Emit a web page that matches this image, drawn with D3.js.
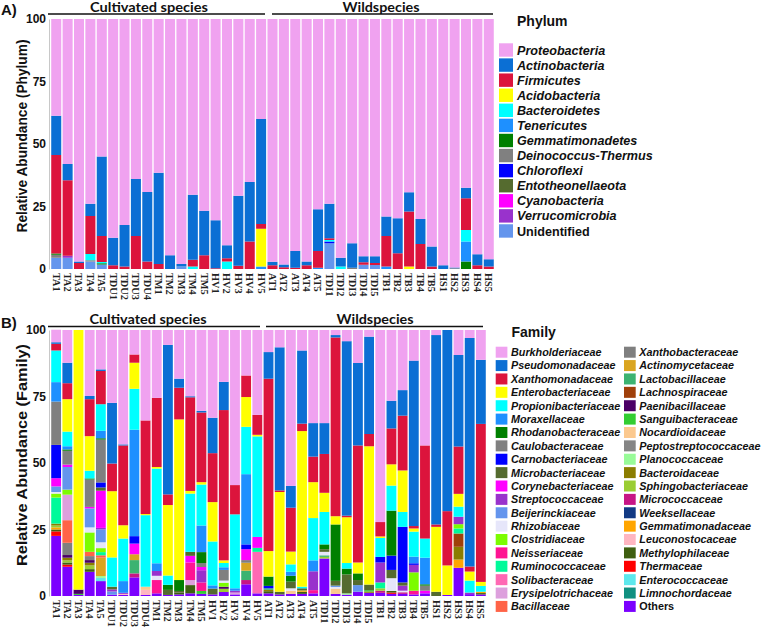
<!DOCTYPE html>
<html><head><meta charset="utf-8">
<script src="https://cdn.jsdelivr.net/npm/d3@7"></script>
<style>body{margin:0;background:#fff}svg{display:block}</style>
</head><body>
<svg id="chart" width="761" height="627"></svg>
<script>
// ---------- DATA ----------
const samples = ["TA1","TA2","TA3","TA4","TA5","TDU1","TDU2","TDU3","TDU4","TM1","TM2","TM3","TM4","TM5","HV1","HV2","HV3","HV4","HV5",
  "AT1","AT2","AT3","AT4","AT5","TDI1","TDI2","TDI3","TDI4","TDI5","TB1","TB2","TB3","TB4","TB5","HS1","HS2","HS3","HS4","HS5"];
const groups = [{name:"Cultivated species", first:"TA1", last:"HV5"}, {name:"Wildspecies", first:"AT1", last:"HS5"}];
const yTicks = [0,25,50,75,100];

// Phylum (panel A), legend order
const phylumNames = ["Proteobacteria","Actinobacteria","Firmicutes","Acidobacteria","Bacteroidetes","Tenericutes","Gemmatimonadetes","Deinococcus-Thermus","Chloroflexi","Entotheonellaeota","Cyanobacteria","Verrucomicrobia","Unidentified"];
const phylumColors = ["#f0a2f0","#0b6fd4","#dc143c","#ffff00","#00ffff","#1e90ff","#008000","#808080","#0000ff","#556b2f","#ff00ff","#9932cc","#6495ed"];
const proteobacteria = [38.7,58,97,73.9,55, 87.5,82.4,64,69.2, 61.5,94.5,98,70.3,76.7, 80.5,90.5,70.7,65.2,40, 97.1,98.2,92.8,97,76.1, 73.9,95.5,89.7,94.9,94.9, 79,79.7,69.3,80,91, 98.5,99.4,67.5,94.1,96.1];
const actinobacteria = [15.7,6.5,0.6,4.9,31.8, 11,16.6,22.8,27.8, 36.5,5.5,1,26,17.8, 19.2,5.2,28,23.8,42, 1.4,1.1,6.7,1.5,16.7, 13.8,3.5,9.8,2.4,2.7, 7.8,14,7.7,10,8, 1.5,0.3,4.2,4.4,2.9];
const firmicutes = [39.4,30.2,2.4,15.2,10.4, 1.5,1,13.2,3, 2,0,0,2.7,5.5, 0.3,1.3,1.3,11,1.9, 1.5,0.7,0.5,1.5,6.7, 0.7,0,0,1,0.8, 12.2,6.3,22,10,1, 0,0,12.7,1.5,1];
const acidobacteria = [0,0,0,0,0, 0,0,0,0, 0,0,0,0,0, 0,0,0,0,15.1, 0,0,0,0,0, 0,0,0,0,0, 0,0,1,0,0, 0,0,0,0,0];
const bacteroidetes = [0,0,0,2.5,0.5, 0,0,0,0, 0,0,0,1,0, 0,3,0,0,0, 0,0,0,0,0, 0.6,1,0,0,0, 0,0,0,0,0, 0,0,4.6,0,0];
const tenericutes = [0,0,0,0,0, 0,0,0,0, 0,0,0,0,0, 0,0,0,0,1, 0,0,0,0,0.5, 0,0,0,0,0, 1,0,0,0,0, 0,0,8,0,0];
const gemmatimonadetes = [0.5,0,0,0,0.5, 0,0,0,0, 0,0,0,0,0, 0,0,0,0,0, 0,0,0,0,0, 0,0,0,0,0, 0,0,0,0,0, 0,0,3,0,0];
const deinococcus = [1.2,0,0,0.5,0, 0,0,0,0, 0,0,0,0,0, 0,0,0,0,0, 0,0,0,0,0, 0,0,0.5,0,0, 0,0,0,0,0, 0,0.3,0,0,0];
const chloroflexi = [0,0,0,0,0, 0,0,0,0, 0,0,0,0,0, 0,0,0,0,0, 0,0,0,0,0, 0.7,0,0,0,0, 0,0,0,0,0, 0,0,0,0,0];
const entotheonellaeota = [0,0,0,0,0, 0,0,0,0, 0,0,0,0,0, 0,0,0,0,0, 0,0,0,0,0, 0,0,0,0,0, 0,0,0,0,0, 0,0,0,0,0];
const cyanobacteria = [0,0,0,0,0, 0,0,0,0, 0,0,0,0,0, 0,0,0,0,0, 0,0,0,0,0, 0,0,0,0,0, 0,0,0,0,0, 0,0,0,0,0];
const verrucomicrobia = [0,0.8,0,0,0, 0,0,0,0, 0,0,0,0,0, 0,0,0,0,0, 0,0,0,0,0, 0,0,0,0,0, 0,0,0,0,0, 0,0,0,0,0];
const unidentified = [4.5,4.5,0,3,1.8, 0,0,0,0, 0,0,1,0,0, 0,0,0,0,0, 0,0,0,0,0, 10.3,0,0,1.7,1.6, 0,0,0,0,0, 0,0,0,0,0];
const phylumValues = [proteobacteria,actinobacteria,firmicutes,acidobacteria,bacteroidetes,tenericutes,gemmatimonadetes,deinococcus,chloroflexi,entotheonellaeota,cyanobacteria,verrucomicrobia,unidentified];

// Family (panel B), legend order
const familyNames = ["Burkholderiaceae","Pseudomonadaceae","Xanthomonadaceae","Enterobacteriaceae","Propionibacteriaceae","Moraxellaceae","Rhodanobacteraceae","Caulobacteraceae","Carnobacteriaceae","Microbacteriaceae","Corynebacteriaceae","Streptococcaceae","Beijerinckiaceae","Rhizobiaceae","Clostridiaceae","Neisseriaceae","Ruminococcaceae","Solibacteraceae","Erysipelotrichaceae","Bacillaceae",
  "Xanthobacteraceae","Actinomycetaceae","Lactobacillaceae","Lachnospiraceae","Paenibacillaceae","Sanguibacteraceae","Nocardioidaceae","Peptostreptococcaceae","Planococcaceae","Bacteroidaceae","Sphingobacteriaceae","Micrococcaceae","Weeksellaceae","Gemmatimonadaceae","Leuconostocaceae","Methylophilaceae","Thermaceae","Enterococcaceae","Limnochordaceae","Others"];
const familyColors = ["#f0a2f0","#0b6fd4","#dc143c","#ffff00","#00ffff","#1e90ff","#008000","#808080","#0000ff","#556b2f","#ff00ff","#9932cc","#6495ed","#e6e6fa","#7cfc00","#ff1493","#00fa9a","#ff69b4","#dda0dd","#ff6347",
  "#7f7f7f","#daa520","#3cb371","#a0400a","#4b0066","#32cd32","#fbc98f","#858585","#98fb98","#8b7d00","#9acd32","#c71585","#123a84","#ffa500","#ffb6c1","#3f5f10","#ff0000","#5de8ec","#109080","#7b00ff"];
const burkholderiaceae = [4.7,12.3,0,24.8,14.8, 27.4,43,9.2,34, 25.5,5.6,18.3,24.9,30.4, 33,19.5,58.3,17.1,31.9, 8.3,6.5,58.6,7.7,35, 35,1.9,4.2,12.4,2.5, 72.2,26.6,22.6,11.5,43.4, 1.9,0,9.4,3,11.2];
const pseudomonadaceae = [0.6,7.7,0,1.2,0.6, 22.8,0.4,0,0, 0,56.2,3.4,0.4,0.6, 13.3,10.6,0,0,0, 10,53.8,8.2,27.5,12.6, 11.6,0.9,65.6,31,36.6, 0,10.4,9.6,62.2,0, 71.2,68.1,34.4,85.9,24.1];
const xanthomonadaceae = [2.5,6,0,13.9,12.5, 10.4,30,3.1,35.2, 26,4,11.9,35.2,26.2, 18.4,56.5,11,8.1,7.5, 64.8,0.6,16.5,2.8,9.6, 14.6,67.2,0.6,44,4.6, 5.4,13.5,20.6,0.9,35, 0.9,20.4,17.8,1.9,59.4];
const enterobacteriaceae = [0,12.2,97.6,13,0, 24.9,5,9.8,0.4, 0.6,26.5,60.4,1,0.9, 14.8,1,0,11.2,0.6, 9.6,37.5,4.8,58.5,13.5, 7.2,3.1,17.2,4.1,52, 0.6,8,15.6,1.2,0, 24.4,11.1,4.8,3.4,1.5];
const propionibacteriaceae = [11.9,5.5,0,2.9,10, 11,16,15.4,26.9, 35.6,3.5,0,21.9,15.4, 16.5,1.6,27.8,17.8,37.8, 0,0,2.8,0.6,15.9, 12.2,0,2.1,0,0, 7.1,9.4,5.6,9.4,7.2, 0,0,3.8,4.5,2.2];
const moraxellaceae = [7.3,1.2,0,0,2.8, 0,4.4,40,0, 2.9,0,0,0,10, 1.2,1,0.9,26.4,0, 0,0,1.5,0,4.1, 0,0,0,0,0, 0,0,0,2.5,10, 0,0,0,0,0];
const rhodanobacteraceae = [0,0.5,0,0.4,0.5, 0,0,0,0, 0,1.9,4.1,0,4.1, 0,0,0,0,0, 3.5,0,2.2,0,0, 1.8,21.2,2.2,2.5,0, 0,16.9,0,0,0.5, 0,0,0,0,0];
const caulobacteraceae = [16.3,5.2,0,10.3,16.1, 0,0,0,0, 0,0,0,0,1.5, 0,4,0,0,0, 0,0,0,0,0, 0,0,0,0,0, 0,0,0,0,1.9, 0,0,0,0,0];
const carnobacteriaceae = [12.5,0,0,0,1.9, 0,0,2.8,0, 0,0,0,0,0, 0,0,0,1.8,0, 0.9,0,0,0,0, 0,0,0,0,0, 2.1,5.4,20.9,0.6,0, 0,0,0,0,0];
const microbacteriaceae = [0,0,0,0,1.2, 1,0,0,0, 0,1.9,0.6,1.5,0, 2.2,0,0,0,0, 0,1,2.5,0.8,0, 1,1.8,7.1,1.9,2.1, 0,3.1,1.2,0,0, 1.6,0,0,0,0];
const corynebacteriaceae = [3.1,0.9,0,0.6,14, 0,0,4,0, 0,0,0,2.5,1.2, 0,0,0,4.1,4.1, 0,0,0,0,0, 0,0,0,0,0, 0,0,0,0,1, 0,0,0,0,0];
const streptococcaceae = [0,0,0,0,0.6, 0.8,0.4,0,0, 1.8,0,0,0,4.6, 0,0,0.7,0,0, 0,0,0,0,7.1, 0,0,0,0,0, 7.5,0,1.9,2.8,0, 0,0,2.8,0.6,0];
const beijerinckiaceae = [2.1,8.5,0,7.1,4.8, 1.2,0,0,0, 0,0,0,0,0, 0,0,0,0,0, 0,0,0,0,0, 0,0.5,0,2.5,0, 0,0,0,0,0, 0,0,0,0,0];
const rhizobiaceae = [0.6,0,0,1.9,2.2, 0,0,0,0, 1.6,0,0,0,0, 0,0.8,0,0,0, 0,0,0.9,0,0, 1.3,0.6,0,0,0, 0,4.8,0.6,0,0, 0,0,0,0,0];
const clostridiaceae = [1.5,1.9,0,7.3,1.5, 0,0,0,0, 0,0,0,0,0, 0,1.5,0,0,0, 0,0,0,0,0, 0,0,0,0,0, 0,0,0,6.9,0, 0,0,1.6,0,0];
const neisseriaceae = [0,0,0,0,0, 0,0,0,0, 5,0,0,6.6,3.2, 0,0,0,0,0, 0,0,0,0,1.2, 0,0,0,0,0, 0,0,0,1.4,0, 0,0,0,0,0];
const ruminococcaceae = [9.8,0,0,0,1.2, 0,0,0,0, 0,0,0,0,0, 0,0,0,0,1.5, 0,0,0,0,0, 0,0,0,0,0, 2.2,0,0,0,0, 0,0,1.9,0,0];
const solibacteraceae = [0,0,0,0,0, 0,0,0,0, 0,0,0,0,0, 0,0,0,0,15.6, 0,0,0,0,0, 0,0,0,0,0, 0,0,0,0,0, 0,0,0,0,0];
const erysipelotrichaceae = [0,9.6,0,0,0, 0,0,0,0, 0,0,0,1.9,0, 0,0,0.7,0,0, 0,0,0,0,0, 0,0,0,0,0, 0,0,0,0,0, 0,0,0,0,0];
const bacillaceae = [0,8.5,0,1.6,0.9, 0,0,0,0, 0,0,0,0,0, 0,0,0,0,0, 0,0,0,0,0, 0,0,0,0,0, 0,0,0,0,0, 0,0,0,0,0];
const xanthobacteraceae = [0,4.6,0,1.5,0, 0,0,0,0, 0,0,0,0,0, 0,0,0,1,0, 0,0,0,0,0, 0,0,0,0,0, 0,0,0,0,0, 0,0,0,0,0];
const actinomycetaceae = [0,0,0,0,6.9, 0,0,2.2,0, 0,0,0,0,0, 0,0,0,3,0, 0,0,0,0,0, 0,0,0,0,0, 0,0,0,0,0, 0,0,0,0,0];
const lactobacillaceae = [0,0,0,0,0, 0,0,5,0, 0,0,0,0,0, 0,0,0,3.5,0, 0.6,0,0,0,0, 0.6,0,0,0,0, 0,0,0,0,0, 0,0,0,0,0];
const lachnospiraceae = [0,0,0,0,0, 0,0,0,0, 0,0,0,0,0, 0,0,0,0,0, 0,0,0,0,0, 0,0,0,0,0, 0,0,0,0,0, 0,0,5,0,0];
const paenibacillaceae = [0,1,1.6,1,0, 0,0,0,0, 0,0,0,0,0, 0,0.8,0,0,0, 0,0,0,0,0, 0,0,0,0,0, 0,0,0,0,0, 0,0,0,0,0];
const sanguibacteraceae = [0,0,0.4,0,0, 0,0,0,0, 0,0,0,0,1.1, 0,0,0,0,0, 0,0,0,0,0, 0,0,0,0,0.5, 0,0,0,0,0, 0,0,0,0,0];
const nocardioidaceae = [0,0,0,0,0, 0,0,0,1.2, 0,0,0,0,0, 0,0,0,0,0, 0,0,1.2,0,0, 0,2,0,0,0, 0,0,0,0,0, 0,0,0,0,0];
const peptostreptococcaceae = [0,0,0,0,0, 0,0,0,0, 0,0,0,0,0, 0,0,0,0,0, 0,0,0,0,0, 0,0,0,0,0, 0,0,0,0,0, 0,0,0,0,0];
const planococcaceae = [0,0,0,0,0.7, 0,0,0,0, 0,0,0,0,0, 0,0,0,0,0, 0,0,0,0,0, 0,0,0.5,0,0, 0,0,0,0,0, 0,0,0,0,0];
const bacteroidaceae = [0.7,1,0,1,0, 0,0,0,0, 0,0,0,0,0, 0,0,0,0,0, 0.5,0,0,0,0, 0,0,0,0,0.5, 0,0,0,0,0, 0,0,4.8,0,0];
const sphingobacteriaceae = [0.7,0.8,0,1.4,0, 0,0,0,0, 0,0,0,0,0, 0,1.2,0,0,0, 0,0,0,0,0, 0.6,0,0,0,0, 0.9,0,0,0,0, 0,0,0,0,0];
const micrococcaceae = [0,0,0,0,0, 0,0,1.5,0, 0,0,0,0,0, 0,0,0,1.6,0, 0,0,0,0,0, 0,0,0,0,0, 0.8,0,0.6,0,0, 0,0,0,0,0];
const weeksellaceae = [0,0,0,0,0, 0,0,0,0, 0,0,0,0,0, 0,0,0,0,0, 0,0,0,0,0, 0,0,0,0,0, 0,0,0,0,0, 0,0,0,0,0];
const gemmatimonadaceae = [0.8,0,0,0,0, 0,0,0,0, 0,0,0,0,0, 0,0,0,0,0, 0,0,0,0.5,0, 0,0,0,0,0, 0,0,0,0,0, 0,0,3.1,0,0.5];
const leuconostocaceae = [0,0,0,0,0, 0,0.4,0,1.9, 0,0,0,0,0, 0,0,0,0,0, 0,0,0,0,0, 0,0,0,0,0, 0,0,0,0,0, 0,0,0,0,0];
const methylophilaceae = [0.7,0.8,0,1,0, 0,0,0,0, 0,0,0.7,3.1,0, 0,0,0,0,0, 0.8,0,0,0.8,0, 0,0,0,0,0, 0,0.6,0,0,0, 0,0,0,0,0.5];
const thermaceae = [1.7,0.8,0,0,0, 0,0,0,0, 0,0,0,0,0, 0,0,0,0,0, 0,0,0,0,0, 0,0,0,0,0, 0,0.5,0,0,0, 0,0,0,0,0];
const enterococcaceae = [0,0,0,0,1.2, 0,0,0,0, 0,0,0,0,0, 0,0,0,0,0, 0,0,0,0,0, 0,0,0,0,0, 0,0,0,0,0, 0,0,0,0,0];
const limnochordaceae = [0,0,0,0,0, 0,0,0,0, 0,0,0,0,0, 0,0,0,0,0, 0,0,0,0,0, 0,0,0,0,0, 0,0,0,0,0, 0,0,0,0,0];
const others = [22.6,11,0.4,9.1,5.6, 0.5,0.4,7,0.4, 1,0.4,0.6,1,0.8, 0.6,1.5,0.6,4.4,1, 1,0.6,0.8,0.8,1, 14.1,0.8,0.5,1.6,1.2, 1.2,0.8,0.8,0.6,1, 0,0.4,10.6,0.7,0.6];
const familyValues = [burkholderiaceae,pseudomonadaceae,xanthomonadaceae,enterobacteriaceae,propionibacteriaceae,moraxellaceae,rhodanobacteraceae,caulobacteraceae,carnobacteriaceae,microbacteriaceae,corynebacteriaceae,streptococcaceae,beijerinckiaceae,rhizobiaceae,clostridiaceae,neisseriaceae,ruminococcaceae,solibacteraceae,erysipelotrichaceae,bacillaceae,
  xanthobacteraceae,actinomycetaceae,lactobacillaceae,lachnospiraceae,paenibacillaceae,sanguibacteraceae,nocardioidaceae,peptostreptococcaceae,planococcaceae,bacteroidaceae,sphingobacteriaceae,micrococcaceae,weeksellaceae,gemmatimonadaceae,leuconostocaceae,methylophilaceae,thermaceae,enterococcaceae,limnochordaceae,others];

// ---------- DRAW ----------
const svg = d3.select("#chart");
const SANS = "'Liberation Sans', Arial, sans-serif";

function panel(cfg) {
  const {names, colors, values, xr, yr, letter, letterY, yTitle, yTitleLen, headerY, groupSpans} = cfg;
  const rows = samples.map((s, i) => { const r = {sample: s}; names.forEach((n, k) => r[n] = values[k][i]); return r; });
  const keys = names.slice().reverse(); // bottom of stack = last legend item
  const color = d3.scaleOrdinal(names, colors);
  const x = d3.scaleBand(samples, xr).paddingInner(0.12).paddingOuter(0.02);
  const y = d3.scaleLinear([0, 100], yr);
  const series = d3.stack().keys(keys)(rows);
  const g = svg.append("g");
  g.selectAll("g.s").data(series).join("g").attr("fill", d => color(d.key))
    .selectAll("rect").data(d => d).join("rect")
    .attr("x", d => x(d.data.sample)).attr("width", x.bandwidth())
    .attr("y", d => y(d[1])).attr("height", d => Math.max(0, y(d[0]) - y(d[1])));
  // y axis
  const ax = g.append("g").attr("transform", `translate(${xr[0] - 2},0)`)
    .call(d3.axisLeft(y).tickValues(yTicks).tickSize(0).tickPadding(3));
  ax.select(".domain").attr("stroke", "#c8c8c8");
  ax.selectAll("text").attr("font-family", SANS).attr("font-weight", "bold").attr("font-size", 12).attr("fill", "#111");
  // x labels
  g.selectAll("text.xl").data(samples).join("text").attr("class", "xl")
    .attr("transform", d => `translate(${x(d) + x.bandwidth() / 2},${yr[0] + 4}) rotate(90)`)
    .attr("dy", "0.35em").attr("font-family", "'Liberation Serif', 'Times New Roman', serif")
    .attr("font-weight", "bold").attr("font-size", 10.3).attr("fill", "#222").text(d => d);
  // y title
  g.append("text").attr("transform", `translate(22,${(yr[0] + yr[1]) / 2 - 8}) rotate(-90)`)
    .attr("text-anchor", "middle").attr("dy", "0.35em").attr("font-family", SANS).attr("font-weight", "bold")
    .attr("font-size", 15).attr("fill", "#111").attr("textLength", yTitleLen).attr("lengthAdjust", "spacingAndGlyphs").text(yTitle);
  // panel letter
  g.append("text").attr("x", 1).attr("y", letterY).attr("font-family", SANS).attr("font-weight", "bold")
    .attr("font-size", 15).attr("fill", "#111").text(letter);
  // group headers
  groupSpans.forEach((sp, i) => {
    g.append("line").attr("x1", sp[0]).attr("x2", sp[1]).attr("y1", headerY).attr("y2", headerY)
      .attr("stroke", "#111").attr("stroke-width", 1.6);
    g.append("text").attr("x", sp[2]).attr("y", headerY - 2.5).attr("text-anchor", "middle")
      .attr("font-family", "Lato, 'Open Sans', sans-serif").attr("font-weight", "bold").attr("font-size", 12.5)
      .attr("textLength", sp[3]).attr("lengthAdjust", "spacingAndGlyphs").attr("fill", "#111").text(groups[i].name);
  });
  return color;
}

panel({names: phylumNames, colors: phylumColors, values: phylumValues, xr: [51, 494], yr: [269, 19],
  letter: "A)", letterY: 15, yTitle: "Relative Abundance (Phylum)", yTitleLen: 193, headerY: 14,
  groupSpans: [[48, 265, 149, 118], [272, 493, 381, 77]]});
panel({names: familyNames, colors: familyColors, values: familyValues, xr: [51, 486], yr: [596, 330],
  letter: "B)", letterY: 328, yTitle: "Relative Abundance (Family)", yTitleLen: 222, headerY: 326.5,
  groupSpans: [[48, 260, 148, 117], [266, 483, 375, 77]]});

// Legend A
const lgA = svg.append("g");
lgA.append("text").attr("x", 517).attr("y", 26).attr("font-family", SANS).attr("font-weight", "bold")
  .attr("font-size", 14).attr("fill", "#111").text("Phylum");
phylumNames.forEach((n, i) => {
  const yy = 43.3 + i * 15.08;
  lgA.append("rect").attr("x", 499).attr("y", yy).attr("width", 14).attr("height", 13.4).attr("fill", phylumColors[i]);
  lgA.append("text").attr("x", 517).attr("y", yy + 6.9).attr("dy", "0.35em").attr("font-family", SANS)
    .attr("font-weight", "bold").attr("font-style", n === "Unidentified" ? "normal" : "italic")
    .attr("font-size", 12.6).attr("fill", "#111").text(n);
});

// Legend B
const lgB = svg.append("g");
lgB.append("text").attr("x", 511.5).attr("y", 337).attr("font-family", SANS).attr("font-weight", "bold")
  .attr("font-size", 14).attr("fill", "#111").text("Family");
familyNames.forEach((n, i) => {
  const col = i < 20 ? 0 : 1, row = i % 20;
  const sx = col ? 624 : 495.7, tx = col ? 639.3 : 511;
  const yy = 346.7 + row * 13.38;
  lgB.append("rect").attr("x", sx).attr("y", yy).attr("width", 11.7).attr("height", 11).attr("fill", familyColors[i]);
  lgB.append("text").attr("x", tx).attr("y", yy + 5.6).attr("dy", "0.35em").attr("font-family", SANS)
    .attr("font-weight", "bold").attr("font-style", n === "Others" ? "normal" : "italic")
    .attr("font-size", 10.8).attr("fill", "#111").text(n);
});
</script>
</body></html>
